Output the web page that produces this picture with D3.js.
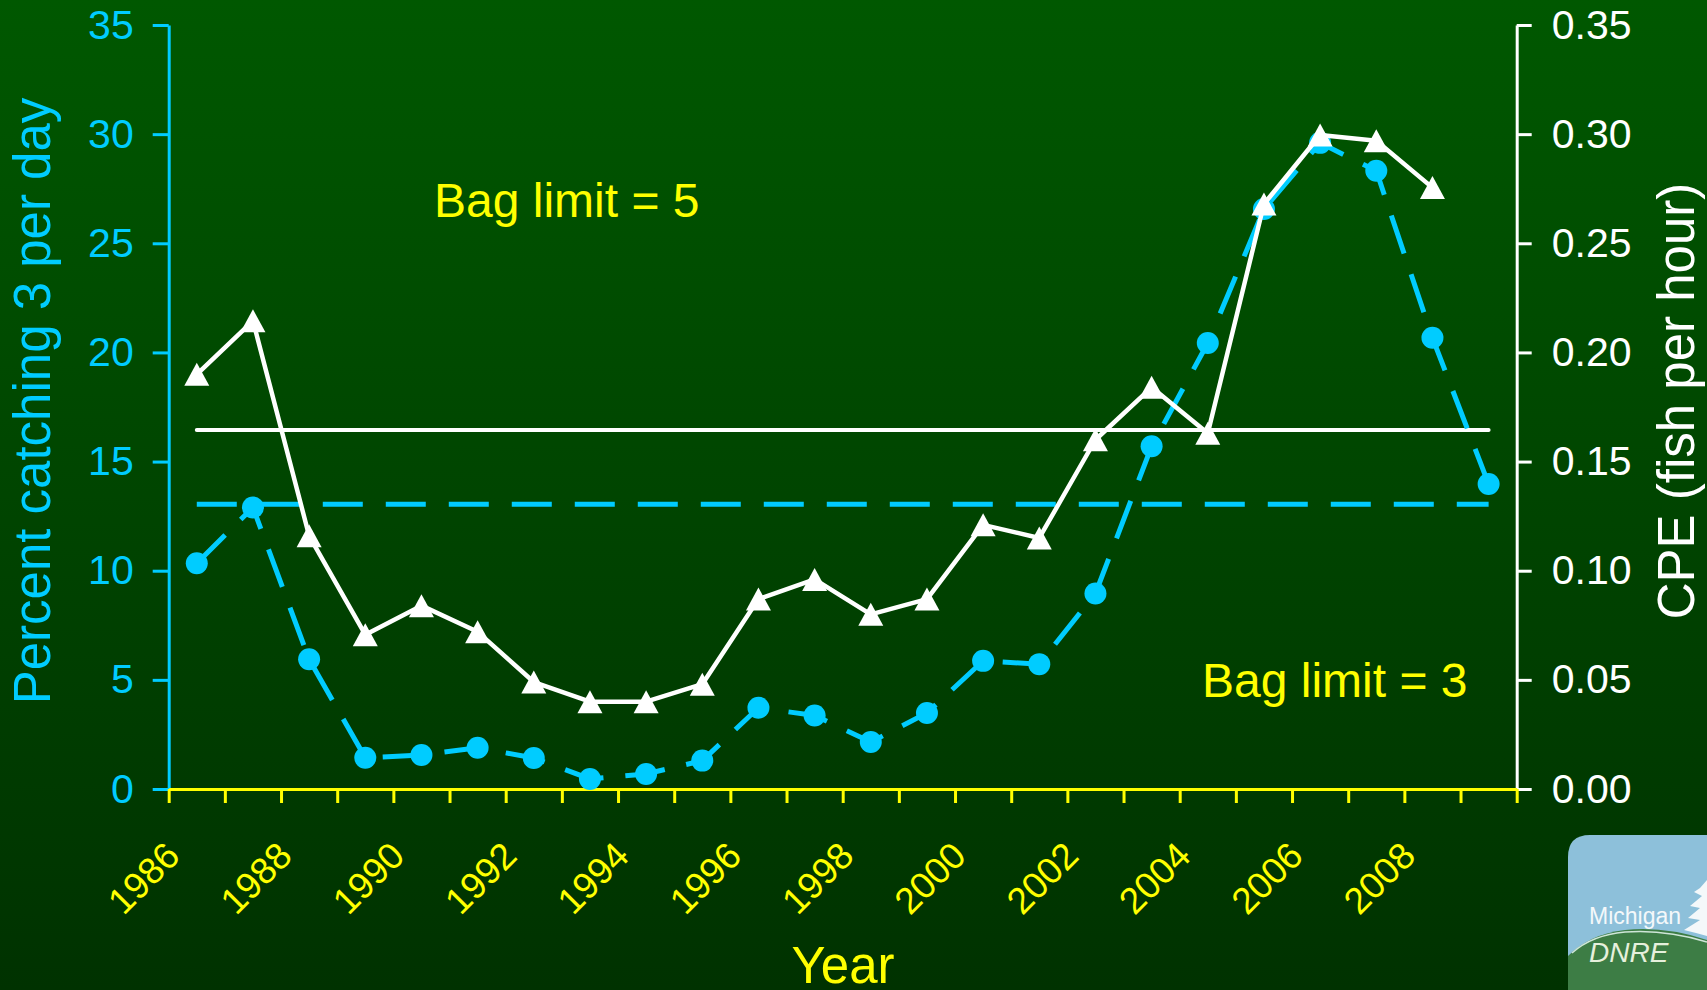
<!DOCTYPE html>
<meta charset="utf-8">
<head>
  <title>Percent catching 3 per day and CPE</title>
  <script src="https://cdn.jsdelivr.net/npm/d3@7"></script>
  <style>
    body { margin: 0; background: #003300; }
    svg text { font-family: "Liberation Sans", Arial, sans-serif; }
  </style>
</head>
<body>
<svg width="1707" height="990"></svg>
<script>

  var years = [1986, 1987, 1988, 1989, 1990, 1991, 1992, 1993, 1994, 1995, 1996, 1997,
               1998, 1999, 2000, 2001, 2002, 2003, 2004, 2005, 2006, 2007, 2008, 2009];
  // percent of anglers catching 3 per day (left axis)
  var pctCatch = [10.34, 12.9, 5.94, 1.43, 1.56, 1.89, 1.42, 0.46, 0.69, 1.30, 3.72, 3.37,
                  2.15, 3.48, 5.87, 5.72, 8.96, 15.7, 20.43, 26.57, 29.6, 28.32, 20.67, 13.97];
  // catch per effort, fish per hour (right axis), 1986-2008
  var cpe = [0.190, 0.2145, 0.116, 0.0707, 0.084, 0.072, 0.049, 0.040, 0.040, 0.048, 0.087, 0.096,
             0.080, 0.087, 0.121, 0.115, 0.160, 0.184, 0.163, 0.268, 0.2996, 0.297, 0.2755];
  var meanPct = 13.04;
  var meanCpe = 0.1645;

  var leftTicks = [0, 5, 10, 15, 20, 25, 30, 35];
  var rightTicks = [0, 0.05, 0.10, 0.15, 0.20, 0.25, 0.30, 0.35];
  var labelYears = [1986, 1988, 1990, 1992, 1994, 1996, 1998, 2000, 2002, 2004, 2006, 2008];

  var cyan = "#00ccff", yellow = "#ffff00", white = "#ffffff";

  var svg = d3.select("svg");

  // background
  var grad = svg.append("defs").append("linearGradient")
      .attr("id", "bg").attr("x1", 0).attr("y1", 0).attr("x2", 0).attr("y2", 1);
  grad.append("stop").attr("offset", "0%").attr("stop-color", "#005800");
  grad.append("stop").attr("offset", "100%").attr("stop-color", "#003200");
  svg.append("rect").attr("width", 1707).attr("height", 990).attr("fill", "url(#bg)");

  var x = d3.scaleLinear().domain([1986, 2010]).range([168.7, 1516.7]);
  var yL = d3.scaleLinear().domain([0, 35]).range([789, 25]);
  var yR = d3.scaleLinear().domain([0, 0.35]).range([789, 25]);
  var cx = function(yr) { return x(yr + 0.5); };

  // left axis
  var gl = svg.append("g")
      .attr("transform", "translate(" + x(1986) + ",0)")
      .call(d3.axisLeft(yL).tickValues(leftTicks).tickSize(16).tickSizeOuter(0).tickPadding(19));
  gl.selectAll("path, line").attr("stroke", cyan).attr("stroke-width", 3);
  gl.selectAll("text").attr("fill", cyan).attr("font-size", 41)
      .attr("font-family", "Liberation Sans, Arial, sans-serif");

  // right axis
  var gr = svg.append("g")
      .attr("transform", "translate(" + x(2010) + ",0)")
      .call(d3.axisRight(yR).tickValues(rightTicks).tickFormat(d3.format(".2f"))
        .tickSize(15).tickSizeOuter(0).tickPadding(20));
  gr.selectAll("path, line").attr("stroke", white).attr("stroke-width", 3);
  gr.selectAll("text").attr("fill", white).attr("font-size", 41)
      .attr("font-family", "Liberation Sans, Arial, sans-serif");

  // bottom axis: ticks at year boundaries
  var gb = svg.append("g")
      .attr("transform", "translate(0," + yL(0) + ")")
      .call(d3.axisBottom(x).tickValues(d3.range(1986, 2011)).tickFormat("")
        .tickSize(14).tickSizeOuter(0));
  gb.selectAll("path, line").attr("stroke", yellow).attr("stroke-width", 3);

  svg.append("g").selectAll("text")
    .data(labelYears)
    .enter().append("text")
      .attr("transform", function(d) { return "translate(" + (cx(d) - 15) + ",858) rotate(-45)"; })
      .attr("text-anchor", "end")
      .attr("font-size", 37)
      .attr("fill", yellow)
      .text(function(d) { return d; });

  // mean lines
  svg.append("line")
      .attr("x1", cx(years[0])).attr("x2", cx(years[years.length - 1]))
      .attr("y1", yR(meanCpe)).attr("y2", yR(meanCpe))
      .attr("stroke", white).attr("stroke-width", 4).attr("stroke-linecap", "round");
  svg.append("line")
      .attr("x1", cx(years[0])).attr("x2", cx(years[years.length - 1]))
      .attr("y1", yL(meanPct)).attr("y2", yL(meanPct))
      .attr("stroke", cyan).attr("stroke-width", 5).attr("stroke-dasharray", "40,23");

  // percent series (dashed, circles)
  var pctLine = d3.line()
      .x(function(d, i) { return cx(years[i]); })
      .y(function(d) { return yL(d); });
  svg.append("path")
      .attr("d", pctLine(pctCatch))
      .attr("fill", "none").attr("stroke", cyan).attr("stroke-width", 5)
      .attr("stroke-dasharray", "40,22");
  svg.append("g").selectAll("circle")
    .data(pctCatch)
    .enter().append("circle")
      .attr("cx", function(d, i) { return cx(years[i]); })
      .attr("cy", function(d) { return yL(d); })
      .attr("r", 11)
      .attr("fill", cyan);

  // CPE series (solid, triangles)
  var cpeLine = d3.line()
      .x(function(d, i) { return cx(years[i]); })
      .y(function(d) { return yR(d); });
  svg.append("path")
      .attr("d", cpeLine(cpe))
      .attr("fill", "none").attr("stroke", white).attr("stroke-width", 4.5)
      .attr("stroke-linejoin", "round");
  svg.append("g").selectAll("path")
    .data(cpe)
    .enter().append("path")
      .attr("transform", function(d, i) { return "translate(" + cx(years[i]) + "," + yR(d) + ")"; })
      .attr("d", "M0,-11.5L12.5,11.5L-12.5,11.5Z")
      .attr("fill", white);

  // annotations
  svg.append("text").attr("x", 434).attr("y", 217).attr("font-size", 48)
      .attr("fill", yellow).text("Bag limit = 5");
  svg.append("text").attr("x", 1202).attr("y", 697).attr("font-size", 48)
      .attr("fill", yellow).text("Bag limit = 3");

  // axis titles
  svg.append("text")
      .attr("transform", "translate(50,401) rotate(-90)")
      .attr("text-anchor", "middle").attr("font-size", 51).attr("fill", cyan)
      .text("Percent catching 3 per day");
  svg.append("text")
      .attr("transform", "translate(1694,401) rotate(-90)")
      .attr("text-anchor", "middle").attr("font-size", 51).attr("fill", white)
      .text("CPE (fish per hour)");
  svg.append("text")
      .attr("x", 843).attr("y", 983)
      .attr("text-anchor", "middle").attr("font-size", 51).attr("fill", yellow)
      .text("Year");

  // logo in the corner
  var logo = svg.append("g");
  logo.append("path")
      .attr("d", "M1568,990 L1568,857 Q1568,835 1590,835 L1707,835 L1707,990 Z")
      .attr("fill", "#8dc0da");
  logo.append("path")
      .attr("d", "M1568,990 L1568,956 Q1590,934 1625,930 Q1665,926 1707,940 L1707,990 Z")
      .attr("fill", "#3d7d45");
  logo.append("path")
      .attr("d", "M1572,953 Q1592,935 1625,932 Q1665,929 1707,942")
      .attr("fill", "none").attr("stroke", "#cfe6d8").attr("stroke-width", 1.5);
  logo.append("path")
      .attr("d", "M1707,880 L1700,888 L1694,892 L1702,896 L1690,906 L1700,908 L1688,918 L1700,920 L1684,930 L1696,933 L1707,936 Z")
      .attr("fill", "#f4f8fa");
  logo.append("text").attr("x", 1589).attr("y", 924).attr("font-size", 23)
      .attr("fill", "#f4f8fa").text("Michigan");
  logo.append("text").attr("x", 1589).attr("y", 962).attr("font-size", 28)
      .attr("font-style", "italic").attr("fill", "#e6f0dc").text("DNRE");

</script>
</body>
</html>
